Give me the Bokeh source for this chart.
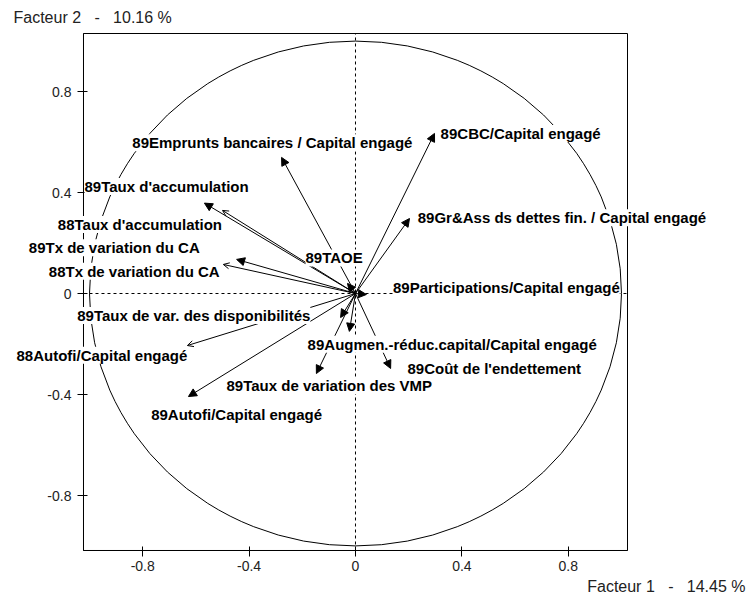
from bokeh.plotting import figure
from bokeh.models import (Range1d, ColumnDataSource, Arrow, NormalHead, OpenHead,
                          LabelSet, Label, BoxAnnotation, FixedTicker)
from bokeh.core.properties import value
from bokeh.embed import file_html
from bokeh.resources import INLINE

# Correlation circle: variable coordinates on factors 1 and 2
variables = [
    "89Emprunts bancaires / Capital engagé",
    "89CBC/Capital engagé",
    "89Gr&Ass ds dettes fin. / Capital engagé",
    "89Participations/Capital engagé",
    "89Taux d'accumulation",
    "88Taux d'accumulation",
    "89Tx de variation du CA",
    "88Tx de variation du CA",
    "89TAOE",
    "89Taux de var. des disponibilités",
    "88Autofi/Capital engagé",
    "89Augmen.-réduc.capital/Capital engagé",
    "89Coût de l'endettement",
    "89Taux de variation des VMP",
    "89Autofi/Capital engagé",
]
factor1 = [-0.278, 0.297, 0.203, 0.041, -0.568, -0.50, -0.447, -0.497, -0.03,
           -0.056, -0.632, -0.023, 0.132, -0.147, -0.628]
factor2 = [0.539, 0.634, 0.297, -0.004, 0.358, 0.329, 0.135, 0.115, 0.04,
           -0.095, -0.206, -0.15, -0.297, -0.317, -0.408]

ticks = [-0.8, -0.4, 0, 0.4, 0.8]
tick_text = {-0.8: "-0.8", -0.4: "-0.4", 0: "0", 0.4: "0.4", 0.8: "0.8"}
NB = "\u00a0"
x_title = f"Facteur 1{NB*3}-{NB*3}14.45 %"
y_title = f"Facteur 2{NB*3}-{NB*3}10.16 %"

# label placement (left edge, vertical middle), in factor units
label_x = [-0.839, 0.320, 0.234, 0.141, -1.0188, -1.119, -1.228, -1.153, -0.188,
           -1.0462, -1.2744, -0.180, 0.1955, -0.485, -0.7682]
label_y = [0.597, 0.634, 0.300, 0.023, 0.424, 0.273, 0.181, 0.088, 0.141,
           -0.087, -0.245, -0.201, -0.298, -0.364, -0.479]

# extent of the boxed plotting area, and of the whole drawing surface
box_x = (-1.0226, 1.0226)
box_y = (-1.0178, 1.0297)
view_x = (-1.3346, 1.4925)
view_y = (-1.2198, 1.1604)

FONT = "Arial"

p = figure(width=752, height=601, output_backend="svg", toolbar_location=None,
           x_range=Range1d(*view_x), y_range=Range1d(*view_y),
           min_border=0)
p.grid.visible = False
p.outline_line_color = None
p.background_fill_color = "white"
p.border_fill_color = "white"

# axes pinned to the box edges
xa, ya = p.xaxis[0], p.yaxis[0]
xa.fixed_location = box_y[0]
ya.fixed_location = box_x[0]
xa.bounds = box_x
ya.bounds = box_y
for ax in (xa, ya):
    ax.ticker = FixedTicker(ticks=ticks)
    ax.major_label_overrides = tick_text
    ax.minor_tick_line_color = None
    ax.axis_line_color = "black"
    ax.major_tick_line_color = "black"
    ax.major_tick_in = 4
    ax.major_tick_out = 6
    ax.major_label_text_font = FONT
    ax.major_label_text_font_size = "14px"
    ax.major_label_text_color = "#222222"
xa.major_label_standoff = 5
ya.major_label_standoff = 6

# box around the plotting area
p.add_layout(BoxAnnotation(left=box_x[0], right=box_x[1], bottom=box_y[0], top=box_y[1],
                           fill_alpha=0, line_color="black", line_width=1, line_alpha=1))

# unit circle
p.ellipse(x=[0], y=[0], width=[2], height=[2], fill_color=None,
          line_color="black", line_width=1)

# dashed axes through the origin
p.segment(x0=[0, box_x[0]], y0=[box_y[0], 0], x1=[0, box_x[1]], y1=[box_y[1], 0],
          line_color="black", line_dash="3 3", line_width=1)

# arrows: 1989 variables with filled heads, 1988 variables with small open heads
idx89 = [i for i, v in enumerate(variables) if v.startswith("89")]
idx88 = [i for i, v in enumerate(variables) if v.startswith("88")]

src89 = ColumnDataSource(dict(x0=[0.0] * len(idx89), y0=[0.0] * len(idx89),
                              x1=[factor1[i] for i in idx89],
                              y1=[factor2[i] for i in idx89]))
src88 = ColumnDataSource(dict(x0=[0.0] * len(idx88), y0=[0.0] * len(idx88),
                              x1=[factor1[i] for i in idx88],
                              y1=[factor2[i] for i in idx88]))
p.add_layout(Arrow(source=src89, x_start="x0", y_start="y0", x_end="x1", y_end="y1",
                   line_color="black", line_width=1,
                   end=NormalHead(size=8, fill_color="black", line_color="black")))
p.add_layout(Arrow(source=src88, x_start="x0", y_start="y0", x_end="x1", y_end="y1",
                   line_color="black", line_width=1,
                   end=OpenHead(size=6, line_color="black", line_width=1)))

# variable labels on white boxes
lab_src = ColumnDataSource(dict(x=label_x, y=label_y, text=variables))
p.add_layout(LabelSet(source=lab_src, x="x", y="y", text="text",
                      text_font=value(FONT), text_font_style="bold",
                      text_font_size="15px", text_color="black",
                      text_align="left", text_baseline="middle",
                      background_fill_color="white"))

# factor titles
p.add_layout(Label(x=-1.2857, y=1.0931, text=y_title, text_font=FONT,
                   text_font_size="16px", text_color="#222222",
                   text_align="left", text_baseline="middle"))
p.add_layout(Label(x=1.4662, y=-1.1604, text=x_title, text_font=FONT,
                   text_font_size="16px", text_color="#222222",
                   text_align="right", text_baseline="middle"))

open("out.html", "w").write(file_html(p, INLINE))
